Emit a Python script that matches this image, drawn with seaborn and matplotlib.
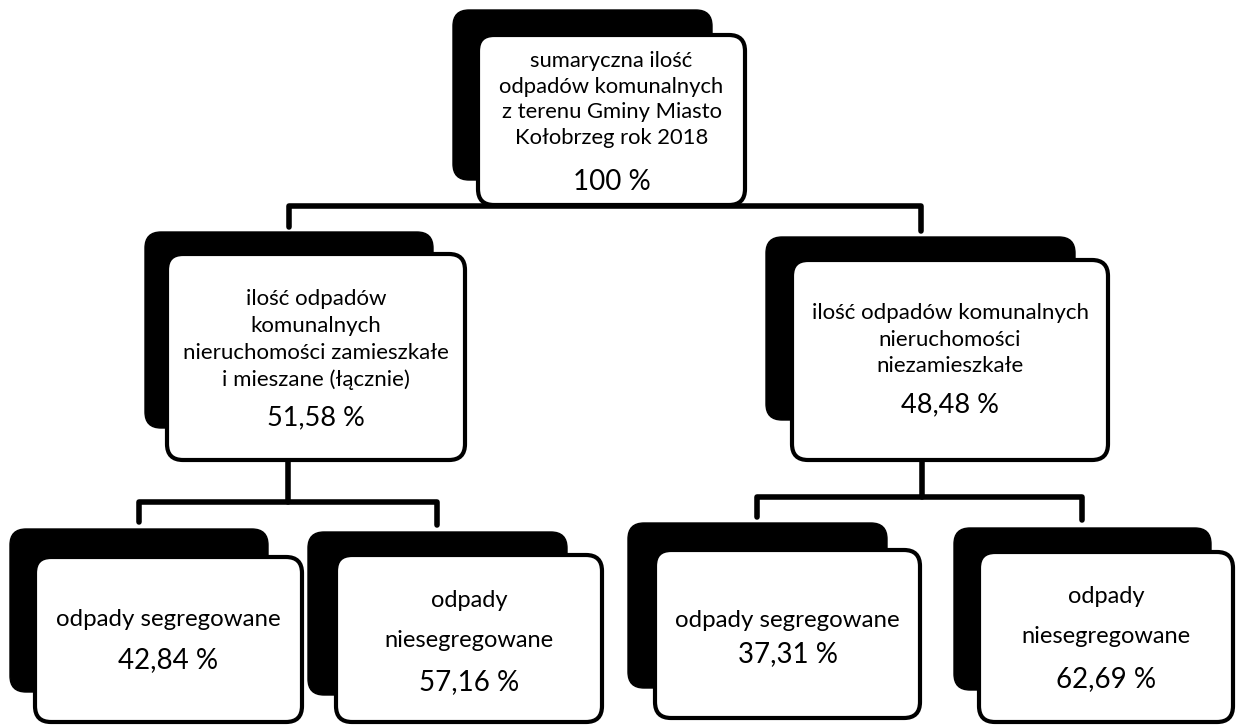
import matplotlib
matplotlib.use("Agg")
import matplotlib.pyplot as plt
from matplotlib.patches import FancyBboxPatch
import seaborn as sns
import pandas as pd

# ---- data ----
node_labels = [
    ["sumaryczna ilość", "odpadów komunalnych", "z terenu Gminy Miasto", "Kołobrzeg rok 2018"],
    ["ilość odpadów", "komunalnych", "nieruchomości zamieszkałe", "i mieszane (łącznie)"],
    ["ilość odpadów komunalnych", "nieruchomości", "niezamieszkałe"],
    ["odpady segregowane"],
    ["odpady", "niesegregowane"],
    ["odpady segregowane"],
    ["odpady", "niesegregowane"],
]
node_percents = [100, 51.58, 48.48, 42.84, 57.16, 37.31, 62.69]
node_parents = [None, 0, 0, 1, 1, 2, 2]

def fmt_pct(v):
    if float(v).is_integer():
        return f"{int(v)} %"
    return f"{v:.2f}".replace(".", ",") + " %"

# ---- layout (pixel coordinates, y downwards) ----
white_boxes = [(478, 35, 745, 205), (167, 254, 465, 460), (792, 260, 1108, 460),
               (35, 557, 302, 722), (336, 555, 602, 722), (655, 550, 920, 718), (979, 552, 1233, 722)]
shadow_boxes = [(453, 10, 712, 180), (145, 232, 433, 428), (766, 237, 1075, 420),
                (10, 529, 268, 692), (308, 532, 567, 695), (628, 523, 887, 688), (954, 528, 1211, 690)]
line_baselines = [[67, 92.5, 118, 143.5], [305, 332, 359, 386], [319, 346, 372],
                  [626], [607, 647], [627], [603, 643]]
pct_baselines = [190, 425, 412, 668, 690, 662, 687]
text_sizes = [15.8, 16.0, 16.0, 17.3, 17.0, 17.3, 17.0]
pct_sizes = [20, 19.5, 19.5, 20, 20, 20, 20]

sns.set_theme(style="white")
plt.rcParams['font.family'] = ['Lato', 'DejaVu Sans']

fig = plt.figure(figsize=(12.39, 7.25), dpi=100)
ax = fig.add_axes([0, 0, 1, 1])

# connectors
segs = []
uid = 0
def add(path):
    global uid
    for x, y in path:
        segs.append({"x": x, "y": y, "u": uid})
    uid += 1

add([(289, 227), (289, 206), (921, 206), (921, 231)])
add([(288, 460), (288, 502)])
add([(139, 522), (139, 502), (437, 502), (437, 525)])
add([(922, 460), (922, 497)])
add([(757, 517), (757, 497), (1082, 497), (1082, 520)])
df = pd.DataFrame(segs)
sns.lineplot(data=df, x="x", y="y", units="u", estimator=None, sort=False,
             color="black", lw=4, ax=ax, legend=False, zorder=1)
ax.set_xlim(0, 1239)
ax.set_ylim(725, 0)
ax.axis("off")

for i in range(len(node_labels)):
    sx0, sy0, sx1, sy1 = shadow_boxes[i]
    ax.add_patch(FancyBboxPatch((sx0, sy0), sx1 - sx0, sy1 - sy0,
                                boxstyle="round,pad=0,rounding_size=16",
                                facecolor="black", edgecolor="black", lw=1, zorder=2))
    wx0, wy0, wx1, wy1 = white_boxes[i]
    ax.add_patch(FancyBboxPatch((wx0, wy0), wx1 - wx0, wy1 - wy0,
                                boxstyle="round,pad=0,rounding_size=16",
                                facecolor="white", edgecolor="black", lw=3, zorder=3))
    cx = (wx0 + wx1) / 2
    for line, yb in zip(node_labels[i], line_baselines[i]):
        ax.text(cx, yb, line, ha="center", va="baseline", fontsize=text_sizes[i],
                color="black", zorder=4)
    ax.text(cx, pct_baselines[i], fmt_pct(node_percents[i]), ha="center", va="baseline",
            fontsize=pct_sizes[i], color="black", zorder=4)

fig.savefig("out.png", dpi=100, facecolor="white")
